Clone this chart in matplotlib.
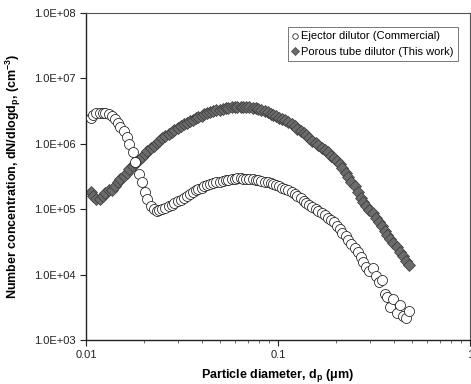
import numpy as np
import matplotlib
matplotlib.use('Agg')
import matplotlib.pyplot as plt
from matplotlib import ticker

plt.rcParams['font.family'] = ['Liberation Sans', 'DejaVu Sans']

# SMPS channel midpoints, um
diam = [0.0106, 0.0109, 0.0113, 0.0118, 0.0122, 0.0126, 0.0131, 0.0136, 0.0141, 0.0146,
        0.0151, 0.0157, 0.0163, 0.0168, 0.0175, 0.0181, 0.0188, 0.0195, 0.0202, 0.0209,
        0.0217, 0.0225, 0.0233, 0.0241, 0.0250, 0.0259, 0.0269, 0.0279, 0.0289, 0.0300,
        0.0311, 0.0322, 0.0334, 0.0346, 0.0359, 0.0372, 0.0385, 0.0400, 0.0414, 0.0429,
        0.0445, 0.0461, 0.0478, 0.0496, 0.0514, 0.0533, 0.0552, 0.0573, 0.0594, 0.0615,
        0.0638, 0.0661, 0.0685, 0.0710, 0.0737, 0.0764, 0.0791, 0.0820, 0.0851, 0.0882,
        0.0914, 0.0947, 0.0982, 0.1018, 0.1055, 0.1094, 0.1134, 0.1176, 0.1219, 0.1263,
        0.1310, 0.1358, 0.1407, 0.1459, 0.1512, 0.1568, 0.1625, 0.1685, 0.1747, 0.1811,
        0.1877, 0.1946, 0.2017, 0.2091, 0.2167, 0.2247, 0.2329, 0.2414, 0.2503, 0.2595,
        0.2690, 0.2788, 0.2890, 0.2996, 0.3106, 0.3220, 0.3338, 0.3460, 0.3587, 0.3718,
        0.3854, 0.3995, 0.4142, 0.4294, 0.4451, 0.4614, 0.4783]

ejector = [2.45e6, 2.75e6, 2.92e6, 2.95e6, 2.95e6, 2.92e6, 2.82e6, 2.63e6, 2.40e6, 2.09e6,
           1.82e6, 1.55e6, 1.26e6, 1.00e6, 7.41e5, 5.25e5, 3.47e5, 2.63e5, 1.86e5, 1.41e5,
           1.12e5, 1.02e5, 9.55e4, 9.77e4, 1.00e5, 1.05e5, 1.10e5, 1.17e5, 1.23e5, 1.32e5,
           1.38e5, 1.48e5, 1.58e5, 1.70e5, 1.82e5, 1.95e5, 2.04e5, 2.14e5, 2.24e5, 2.34e5,
           2.45e5, 2.51e5, 2.57e5, 2.63e5, 2.69e5, 2.75e5, 2.82e5, 2.88e5, 2.92e5, 2.95e5,
           2.95e5, 2.92e5, 2.88e5, 2.88e5, 2.85e5, 2.82e5, 2.75e5, 2.69e5, 2.63e5, 2.57e5,
           2.51e5, 2.43e5, 2.34e5, 2.24e5, 2.14e5, 2.04e5, 1.95e5, 1.82e5, 1.70e5, 1.58e5,
           1.48e5, 1.35e5, 1.26e5, 1.17e5, 1.07e5, 1.00e5, 9.33e4, 8.71e4, 8.13e4, 7.41e4,
           6.92e4, 6.31e4, 5.62e4, 5.01e4, 4.37e4, 3.89e4, 3.39e4, 2.95e4, 2.57e4, 2.19e4,
           1.86e4, 1.58e4, 1.32e4, 1.12e4, 1.26e4, 9.55e3, 7.59e3, 8.32e3, 5.01e3, 4.57e3,
           3.24e3, 4.17e3, 2.57e3, 3.47e3, 2.29e3, 2.14e3, 2.75e3]

porous = [1.86e5, 1.58e5, 1.41e5, 1.45e5, 1.58e5, 1.74e5, 2.00e5, 1.95e5, 2.29e5, 2.57e5,
          2.88e5, 3.24e5, 3.63e5, 4.07e5, 4.57e5, 5.13e5, 5.75e5, 6.31e5, 7.08e5, 7.76e5,
          8.51e5, 9.33e5, 1.02e6, 1.12e6, 1.23e6, 1.32e6, 1.41e6, 1.51e6, 1.62e6, 1.74e6,
          1.86e6, 2.00e6, 2.09e6, 2.24e6, 2.34e6, 2.45e6, 2.57e6, 2.69e6, 2.82e6, 2.95e6,
          3.02e6, 3.16e6, 3.24e6, 3.31e6, 3.39e6, 3.47e6, 3.55e6, 3.59e6, 3.63e6, 3.63e6,
          3.67e6, 3.67e6, 3.63e6, 3.59e6, 3.55e6, 3.47e6, 3.39e6, 3.24e6, 3.16e6, 3.02e6,
          2.88e6, 2.75e6, 2.63e6, 2.51e6, 2.40e6, 2.29e6, 2.14e6, 2.00e6, 1.86e6, 1.70e6,
          1.58e6, 1.48e6, 1.35e6, 1.23e6, 1.12e6, 1.02e6, 9.55e5, 8.71e5, 8.13e5, 7.41e5,
          6.61e5, 6.17e5, 5.50e5, 4.90e5, 4.27e5, 3.63e5, 3.09e5, 2.63e5, 2.24e5, 1.86e5,
          1.48e5, 1.29e5, 1.12e5, 9.77e4, 8.71e4, 7.41e4, 6.31e4, 5.50e4, 4.68e4, 4.07e4,
          3.55e4, 3.02e4, 2.63e4, 2.24e4, 1.91e4, 1.62e4, 1.41e4]

fig = plt.figure(figsize=(4.71, 3.84), dpi=100)
ax = fig.add_axes([86/471, 1-340/384, 384/471, 327/384])

ax.plot(diam, porous, ls='none', marker='D', ms=6.6, mfc='#6b6b6b', mec='#3a3a3a',
        mew=0.5, label='Porous tube dilutor (This work)', zorder=2)
ax.plot(diam, ejector, ls='none', marker='o', ms=7.2, mfc='white', mec='#1a1a1a',
        mew=0.55, label='Ejector dilutor (Commercial)', zorder=3)

ax.set_xscale('log')
ax.set_yscale('log')
ax.set_xlim(0.01, 1)
ax.set_ylim(1e3, 1e8)

ax.yaxis.set_major_formatter(ticker.FuncFormatter(
    lambda v, p: '%.1fE+%02d' % (v / 10**int(round(np.log10(v))), int(round(np.log10(v))))))
ax.yaxis.set_minor_locator(ticker.NullLocator())
ax.xaxis.set_major_formatter(ticker.FuncFormatter(lambda v, p: '%g' % v))
ax.xaxis.set_minor_locator(ticker.LogLocator(base=10, subs=np.arange(2, 10)))
ax.xaxis.set_minor_formatter(ticker.NullFormatter())

ax.tick_params(axis='both', which='major', direction='out', length=4, width=0.8,
               labelsize=8, colors='#222222')
ax.tick_params(axis='x', which='minor', direction='out', length=2.5, width=0.6,
               colors='#555555')
for s in ['left', 'bottom']:
    ax.spines[s].set_linewidth(1.0)
    ax.spines[s].set_color('#222222')
for s in ['top', 'right']:
    ax.spines[s].set_linewidth(0.8)
    ax.spines[s].set_color('#555555')

ax.set_xlabel('Particle diameter, d$_\\mathregular{p}$ (\u03bcm)', fontsize=9,
              fontweight='bold', labelpad=5)
ax.set_ylabel('Number concentration, dN/dlogd$_\\mathregular{p}$, (cm$^\\mathregular{-3}$)',
              fontsize=9, fontweight='bold', labelpad=8)

handles, labels = ax.get_legend_handles_labels()
leg = ax.legend(handles[::-1], labels[::-1], loc='upper right',
                bbox_to_anchor=(458/471, 1-27/384), bbox_transform=fig.transFigure,
                fontsize=8, markerscale=0.55, handlelength=0.5, handletextpad=0.3,
                borderpad=0.4, labelspacing=0.5, fancybox=False, framealpha=1,
                edgecolor='#777777', borderaxespad=0)
leg.get_frame().set_linewidth(0.7)

fig.savefig('out.png', dpi=100)
